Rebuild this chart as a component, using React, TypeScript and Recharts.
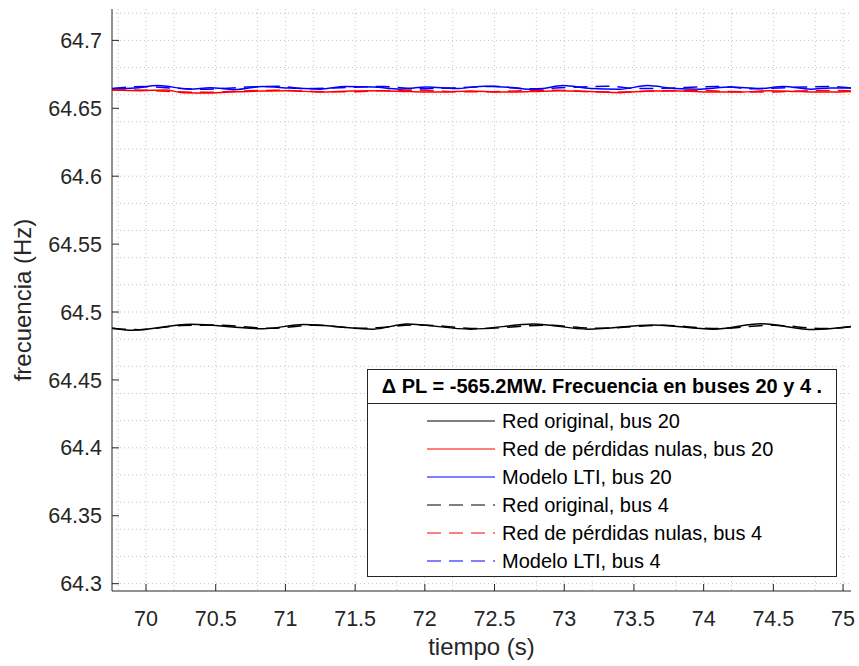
import React from 'react';
import { LineChart, Line, XAxis, YAxis, CartesianGrid, Legend, Label } from 'recharts';

// time axis (s) and frequency (Hz)
const xTicks = [70, 70.5, 71, 71.5, 72, 72.5, 73, 73.5, 74, 74.5, 75];
const yTicks = [64.3, 64.35, 64.4, 64.45, 64.5, 64.55, 64.6, 64.65, 64.7];
const xGrid = Array.from({ length: 53 }, (_, i) => 69.8 + i * 0.1);
const yGrid = Array.from({ length: 43 }, (_, i) => 64.3 + i * 0.01);

const tOrig20 = [69.756, 69.9, 70.32, 70.84, 71.13, 71.63, 71.87, 72.33, 72.78, 73.17, 73.64, 74.07, 74.41, 74.79, 75.057];
const fOrig20 = [64.4883, 64.4865, 64.491, 64.4877, 64.4908, 64.4874, 64.4911, 64.4874, 64.4911, 64.4874, 64.4905, 64.4874, 64.4913, 64.4871, 64.4893];

const tNulas20 = [69.756, 69.957, 70.136, 70.266, 70.424, 70.603, 70.833, 71.034, 71.249, 71.464, 71.68, 71.895, 72.111, 72.326, 72.541, 72.757, 72.972, 73.188, 73.403, 73.618, 73.834, 74.049, 74.264, 74.48, 74.695, 74.91, 75.057];
const fNulas20 = [64.6634, 64.663, 64.6634, 64.6615, 64.6612, 64.6619, 64.6627, 64.663, 64.6619, 64.6627, 64.663, 64.6623, 64.6619, 64.6627, 64.6619, 64.6623, 64.663, 64.6623, 64.6615, 64.6627, 64.6627, 64.6619, 64.6619, 64.663, 64.6623, 64.6619, 64.6623];

const tLti20 = [69.756, 69.921, 70.086, 70.316, 70.459, 70.639, 70.833, 71.034, 71.249, 71.429, 71.63, 71.823, 72.017, 72.218, 72.434, 72.613, 72.793, 72.994, 73.188, 73.403, 73.597, 73.798, 73.977, 74.193, 74.408, 74.573, 74.767, 74.91, 75.057];
const fLti20 = [64.6641, 64.6649, 64.6667, 64.6641, 64.6652, 64.6638, 64.666, 64.6649, 64.6641, 64.666, 64.6656, 64.6641, 64.6656, 64.6645, 64.6663, 64.6652, 64.6638, 64.6667, 64.6645, 64.6641, 64.6667, 64.6645, 64.6641, 64.6656, 64.6645, 64.666, 64.6641, 64.6649, 64.6649];

const tOrig4 = [69.756, 69.95, 70.25, 70.5, 70.9, 71.2, 71.55, 71.95, 72.4, 72.85, 73.25, 73.7, 74.1, 74.5, 74.85, 75.057];
const fOrig4 = [64.4878, 64.487, 64.49, 64.4904, 64.488, 64.4903, 64.488, 64.4905, 64.4878, 64.4903, 64.488, 64.4902, 64.4878, 64.4903, 64.4878, 64.489];

const tNulas4 = [69.756, 70.0, 70.2, 70.45, 70.7, 70.95, 71.2, 71.45, 71.7, 71.95, 72.2, 72.45, 72.7, 72.95, 73.2, 73.45, 73.7, 73.95, 74.2, 74.45, 74.7, 74.95, 75.057];
const fNulas4 = [64.6636, 64.6632, 64.6622, 64.6618, 64.6628, 64.6632, 64.6624, 64.6621, 64.663, 64.6632, 64.6622, 64.6621, 64.663, 64.6633, 64.6622, 64.662, 64.663, 64.6632, 64.6623, 64.662, 64.6628, 64.6631, 64.6628];

const tLti4 = [69.756, 69.98, 70.2, 70.42, 70.7, 70.95, 71.15, 71.4, 71.7, 71.95, 72.2, 72.5, 72.75, 73.05, 73.3, 73.55, 73.85, 74.1, 74.35, 74.65, 74.9, 75.057];
const fLti4 = [64.6646, 64.666, 64.6648, 64.664, 64.6655, 64.6662, 64.6645, 64.6652, 64.666, 64.6644, 64.665, 64.6662, 64.6643, 64.6655, 64.6662, 64.6645, 64.6652, 64.6661, 64.6644, 64.6654, 64.666, 64.665];

const toRows = (t: number[], f: number[]) => t.map((v, i) => ({ t: v, f: f[i] }));

const series = [
  { name: 'Red original, bus 20', color: '#000000', dash: undefined, data: toRows(tOrig20, fOrig20) },
  { name: 'Red de pérdidas nulas, bus 20', color: '#ff0000', dash: undefined, data: toRows(tNulas20, fNulas20) },
  { name: 'Modelo LTI, bus 20', color: '#0000ff', dash: undefined, data: toRows(tLti20, fLti20) },
  { name: 'Red original, bus 4', color: '#000000', dash: '14 8', data: toRows(tOrig4, fOrig4) },
  { name: 'Red de pérdidas nulas, bus 4', color: '#ff0000', dash: '14 8', data: toRows(tNulas4, fNulas4) },
  { name: 'Modelo LTI, bus 4', color: '#0000ff', dash: '14 8', data: toRows(tLti4, fLti4) },
];

const AXIS = '#262626';
const FONT = 'Liberation Sans, Arial, sans-serif';

const fmt = (v: number) => String(Number(v.toFixed(2)));

const LegendBox = () => (
  <div
    style={{
      width: 470,
      height: 208,
      boxSizing: 'border-box',
      border: `1px solid ${AXIS}`,
      background: '#fff',
      fontFamily: FONT,
    }}
  >
    <div
      style={{
        height: 33,
        borderBottom: `1px solid ${AXIS}`,
        fontWeight: 'bold',
        fontSize: 20,
        lineHeight: '33px',
        textAlign: 'center',
        color: '#000',
      }}
    >
      Δ PL = -565.2MW. Frecuencia en buses 20 y 4 .
    </div>
    <div style={{ paddingTop: 3 }}>
      {series.map((s) => (
        <div key={s.name} style={{ height: 28, display: 'flex', alignItems: 'center' }}>
          <svg width={68} height={10} style={{ marginLeft: 59 }}>
            <line x1={0} y1={5} x2={68} y2={5} stroke={s.color} strokeWidth={1.2} strokeDasharray={s.dash} />
          </svg>
          <span style={{ marginLeft: 7, fontSize: 20, color: '#000' }}>{s.name}</span>
        </div>
      ))}
    </div>
  </div>
);

const App: React.FC = () => {
  return (
    <div style={{ position: 'absolute', left: 0, top: 0 }}>
      <LineChart width={859} height={666} margin={{ top: 9, right: 8, left: 0, bottom: 0 }}>
        <CartesianGrid
          stroke="#c4c4c4"
          strokeDasharray="1 3"
          verticalValues={xGrid}
          horizontalValues={yGrid}
        />
        <XAxis
          dataKey="t"
          type="number"
          domain={[69.756, 75.057]}
          allowDataOverflow
          ticks={xTicks}
          tickFormatter={fmt}
          height={75}
          stroke={AXIS}
          tickSize={-7}
          tickMargin={27}
          tick={{ fill: AXIS, fontSize: 21.5, fontFamily: FONT }}
        >
          <Label
            content={({ viewBox }: any) => (
              <text
                x={viewBox.x + viewBox.width / 2}
                y={655}
                textAnchor="middle"
                fill={AXIS}
                fontSize={24}
                fontFamily={FONT}
              >
                tiempo (s)
              </text>
            )}
          />
        </XAxis>
        <XAxis
          xAxisId="top"
          dataKey="t"
          type="number"
          orientation="top"
          domain={[69.756, 75.057]}
          allowDataOverflow
          ticks={xTicks}
          height={0}
          stroke={AXIS}
          tickSize={-7}
          tick={false}
        />
        <YAxis
          type="number"
          domain={[64.2946, 64.7231]}
          allowDataOverflow
          ticks={yTicks}
          tickFormatter={fmt}
          width={112}
          stroke={AXIS}
          tickSize={-7}
          tickMargin={17}
          tick={{ fill: AXIS, fontSize: 21.5, fontFamily: FONT }}
        >
          <Label
            content={({ viewBox }: any) => {
              const cy = viewBox.y + viewBox.height / 2;
              return (
                <text
                  x={31}
                  y={cy}
                  transform={`rotate(-90, 31, ${cy})`}
                  textAnchor="middle"
                  fill={AXIS}
                  fontSize={24}
                  fontFamily={FONT}
                >
                  frecuencia (Hz)
                </text>
              );
            }}
          />
        </YAxis>
        <YAxis
          yAxisId="right"
          orientation="right"
          type="number"
          domain={[64.2946, 64.7231]}
          allowDataOverflow
          ticks={yTicks}
          width={0}
          stroke={AXIS}
          tickSize={-7}
          tick={false}
        />
        {series.map((s) => (
          <Line
            key={s.name}
            data={s.data}
            dataKey="f"
            name={s.name}
            type="monotone"
            stroke={s.color}
            strokeWidth={1.5}
            strokeDasharray={s.dash}
            dot={false}
            isAnimationActive={false}
          />
        ))}
        <Legend
          layout="horizontal"
          verticalAlign="middle"
          align="center"
          wrapperStyle={{ position: 'absolute', left: 367, top: 369, width: 470, height: 208 }}
          content={() => <LegendBox />}
        />
      </LineChart>
    </div>
  );
};

export default App;
